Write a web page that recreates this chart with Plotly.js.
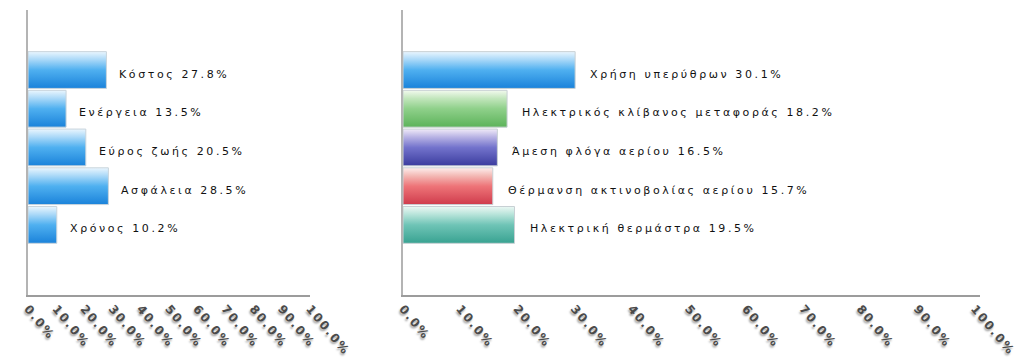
<!DOCTYPE html>
<html>
<head>
<meta charset="utf-8">
<script src="https://cdn.plot.ly/plotly-3.0.1.min.js"></script>
<style>
  html, body { margin: 0; padding: 0; background: #fff; }
  #chart { width: 1019px; height: 358px; }
  #chart .xtick text, #chart .x2tick text { letter-spacing: 1.8px; }
  #chart .annotation-text { letter-spacing: 2.6px; }
</style>
</head>
<body>
<div id="chart"></div>
<script>
// Criteria shares (left panel)
const criteria = ['Κόστος', 'Ενέργεια', 'Εύρος ζωής', 'Ασφάλεια', 'Χρόνος'];
const criteriaShare = [27.8, 13.5, 20.5, 28.5, 10.2];

// Heating methods shares (right panel)
const methods = ['Χρήση υπερύθρων', 'Ηλεκτρικός κλίβανος μεταφοράς', 'Άμεση φλόγα αερίου',
                 'Θέρμανση ακτινοβολίας αερίου', 'Ηλεκτρική θερμάστρα'];
const methodShare = [30.1, 18.2, 16.5, 15.7, 19.5];

const tickVals = [0, 10, 20, 30, 40, 50, 60, 70, 80, 90, 100];
const tickText = ['0.0%', '10.0%', '20.0%', '30.0%', '40.0%', '50.0%', '60.0%', '70.0%', '80.0%', '90.0%', '100.0%'];

// Glossy vertical gradients: [top, upper band, middle, bottom]
const blueGloss = ['#eaf6fe', '#a9d8f8', '#4fb0f0', '#1a82da'];
const methodGloss = [
  ['#eaf6fe', '#a9d8f8', '#4fb0f0', '#1a82da'],
  ['#f2faee', '#c2e6bc', '#8fd08a', '#5cb35a'],
  ['#f0eaf8', '#b7b2e4', '#7373cc', '#3b3c9e'],
  ['#fdeeed', '#f3b8b4', '#ee7478', '#cf3b4c'],
  ['#ecf8f4', '#b6e3d9', '#6fc4b6', '#38a291']
];

const labelFont = { family: 'DejaVu Sans, Verdana, sans-serif', size: 11, color: '#111' };
const tickFont = { family: 'DejaVu Sans, Verdana, sans-serif', size: 12, weight: 'bold',
                   color: '#4a4a4a', shadow: '1px 2px 2px #a0a0a0' };

const traces = [
  {
    type: 'bar', orientation: 'h',
    x: criteriaShare, y: criteria,
    xaxis: 'x', yaxis: 'y',
    marker: { color: '#4fb0f0', line: { color: '#c8d4dc', width: 1 } },
    hoverinfo: 'skip'
  },
  {
    type: 'bar', orientation: 'h',
    x: methodShare, y: methods,
    xaxis: 'x2', yaxis: 'y2',
    marker: { color: methodGloss.map(g => g[2]), line: { color: '#c8d0d4', width: 1 } },
    hoverinfo: 'skip'
  }
];

const fmt = v => v.toFixed(1) + '%';
const annotations = [];
criteria.forEach((c, i) => annotations.push({
  xref: 'x', yref: 'y', x: criteriaShare[i], y: c,
  text: c + ' ' + fmt(criteriaShare[i]),
  xanchor: 'left', yanchor: 'middle', align: 'left', xshift: 11, yshift: -4,
  showarrow: false, font: labelFont
}));
methods.forEach((m, i) => annotations.push({
  xref: 'x2', yref: 'y2', x: methodShare[i], y: m,
  text: m + ' ' + fmt(methodShare[i]),
  xanchor: 'left', yanchor: 'middle', align: 'left', xshift: 13, yshift: -4,
  showarrow: false, font: labelFont
}));

const xBase = {
  tickvals: tickVals, ticktext: tickText, tickangle: 50,
  tickfont: tickFont, ticks: '', showgrid: false, zeroline: false,
  showline: true, linecolor: '#9c9c9c', linewidth: 2, fixedrange: true
};
const yBase = {
  type: 'category', showticklabels: false, ticks: '', showgrid: false,
  zeroline: false, showline: true, linecolor: '#b4b4b4', linewidth: 2,
  range: [5.81, -1.55], fixedrange: true
};

const layout = {
  width: 1019, height: 358,
  margin: { l: 0, r: 0, t: 10, b: 63 },
  paper_bgcolor: '#fff', plot_bgcolor: '#fff',
  showlegend: false, bargap: 0.05,
  xaxis: Object.assign({}, xBase, { domain: [0.0275, 0.3042], range: [0, 100], anchor: 'y' }),
  yaxis: Object.assign({}, yBase, { domain: [0, 1], anchor: 'x' }),
  xaxis2: Object.assign({}, xBase, { domain: [0.3955, 0.9617], range: [0, 100.9], anchor: 'y2' }),
  yaxis2: Object.assign({}, yBase, { domain: [0, 1], anchor: 'x2' }),
  annotations: annotations
};

function addGloss(gd) {
  const svg = gd.querySelector('svg.main-svg');
  const ns = 'http://www.w3.org/2000/svg';
  let defs = svg.querySelector('defs');
  if (!defs) { defs = document.createElementNS(ns, 'defs'); svg.insertBefore(defs, svg.firstChild); }
  const makeGrad = (id, stops) => {
    const g = document.createElementNS(ns, 'linearGradient');
    g.setAttribute('id', id);
    g.setAttribute('x1', '0'); g.setAttribute('y1', '0');
    g.setAttribute('x2', '0'); g.setAttribute('y2', '1');
    const offs = ['0', '0.22', '0.5', '1'];
    stops.forEach((c, k) => {
      const s = document.createElementNS(ns, 'stop');
      s.setAttribute('offset', offs[k]);
      s.setAttribute('stop-color', c);
      g.appendChild(s);
    });
    defs.appendChild(g);
  };
  makeGrad('gloss-criteria', blueGloss);
  methodGloss.forEach((g, i) => makeGrad('gloss-method-' + i, g));

  const barTraces = gd.querySelectorAll('.barlayer .trace.bars');
  barTraces.forEach((tr, ti) => {
    tr.querySelectorAll('.point path').forEach((p, pi) => {
      p.style.fill = ti === 0 ? 'url(#gloss-criteria)' : 'url(#gloss-method-' + pi + ')';
    });
  });
}

Plotly.newPlot('chart', traces, layout, { staticPlot: true, displayModeBar: false })
  .then(addGloss);
</script>
</body>
</html>
